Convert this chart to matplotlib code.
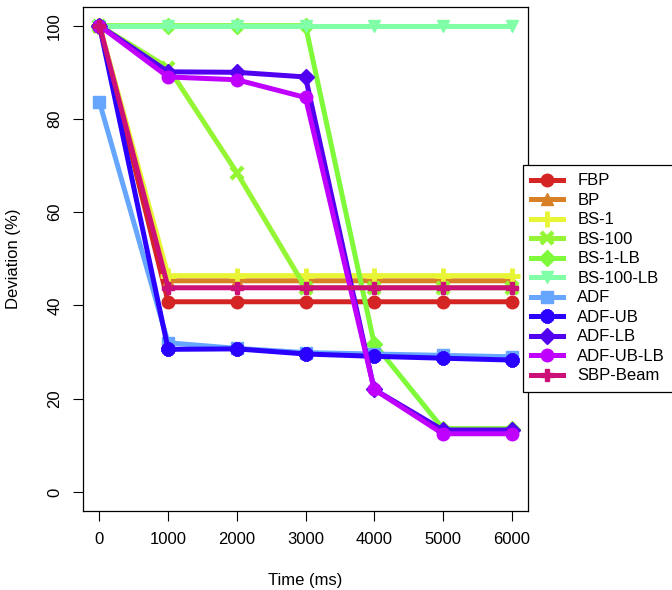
import matplotlib
matplotlib.use("Agg")
import matplotlib.pyplot as plt

plt.rcParams['font.family'] = ['Liberation Sans', 'DejaVu Sans']

# ── Data ──────────────────────────────────────────────────────────────────────
time_ms = [0, 1000, 2000, 3000, 4000, 5000, 6000]

series_names = ["FBP", "BP", "BS-1", "BS-100", "BS-1-LB", "BS-100-LB",
                "ADF", "ADF-UB", "ADF-LB", "ADF-UB-LB", "SBP-Beam"]

fbp       = [100, 40.8, 40.8, 40.8, 40.8, 40.8, 40.8]
bp        = [100, 45.3, 45.3, 45.3, 45.3, 45.3, 45.3]
bs_1      = [100, 46.4, 46.4, 46.4, 46.4, 46.4, 46.4]
bs_100    = [100, 91.0, 68.5, 43.8, 43.8, 43.8, 43.8]
bs_1_lb   = [100, 100, 100, 100, 31.8, 13.6, 13.6]
bs_100_lb = [100, 100, 100, 100, 100, 100, 100]
adf       = [83.6, 32.0, 30.8, 29.9, 29.6, 29.3, 29.0]
adf_ub    = [100, 30.6, 30.7, 29.6, 29.1, 28.7, 28.3]
adf_lb    = [100, 90.1, 90.0, 89.0, 22.0, 13.3, 13.3]
adf_ub_lb = [100, 89.0, 88.4, 84.6, 22.0, 12.5, 12.5]
sbp_beam  = [100, 43.8, 43.8, 43.8, 43.8, 43.8, 43.8]

values = [fbp, bp, bs_1, bs_100, bs_1_lb, bs_100_lb,
          adf, adf_ub, adf_lb, adf_ub_lb, sbp_beam]

colors = ['#D42424', '#D98026', '#E8F535', '#93F533', '#7FFA3A', '#80FFA6',
          '#66A6FF', '#2A00FF', '#5200F0', '#C000FF', '#CC1077']
markers = ['o', '^', '+', 'x', 'D', 'v', 's', (8, 2, 0), 'D', 'o', 'P']
msizes  = [9, 9, 12, 9, 8, 9, 8, 10, 8, 9, 9]
medges  = [1, 1, 3.5, 3.2, 1, 1, 1, 3.5, 1, 1, 1]

# ── Figure ────────────────────────────────────────────────────────────────────
fig = plt.figure(figsize=(6.72, 5.90), dpi=100)
ax = fig.add_axes([83 / 672, 1 - 510.7 / 590, 445 / 672, 503.7 / 590])

for name, vals, c, m, ms, mew in zip(series_names, values, colors,
                                     markers, msizes, medges):
    ax.plot(time_ms, vals, color=c, lw=3.6, marker=m, markersize=ms,
            markeredgewidth=mew, markeredgecolor=c, markerfacecolor=c,
            solid_joinstyle='round', label=name, clip_on=False)

ax.set_xlim(-240, 6240)
ax.set_ylim(-4, 104)
ax.set_xticks(time_ms)
ax.set_yticks([0, 20, 40, 60, 80, 100])
ax.tick_params(direction='out', length=7, width=0.8, labelsize=12, pad=8)
for lab in ax.get_yticklabels():
    lab.set_rotation(90)
    lab.set_va('center')
for sp in ax.spines.values():
    sp.set_linewidth(0.9)

ax.set_xlabel("Time (ms)", fontsize=12, labelpad=19)
ax.set_ylabel("Deviation (%)", fontsize=12, labelpad=19)

leg = ax.legend(loc='upper left', bbox_to_anchor=(0.989, 0.686),
                fontsize=12, frameon=True, fancybox=False, framealpha=1,
                edgecolor='black', borderpad=0.5, labelspacing=0.27,
                handlelength=1.9, handletextpad=0.85, borderaxespad=0)
leg.get_frame().set_linewidth(0.9)

fig.savefig("out.png", dpi=100)
